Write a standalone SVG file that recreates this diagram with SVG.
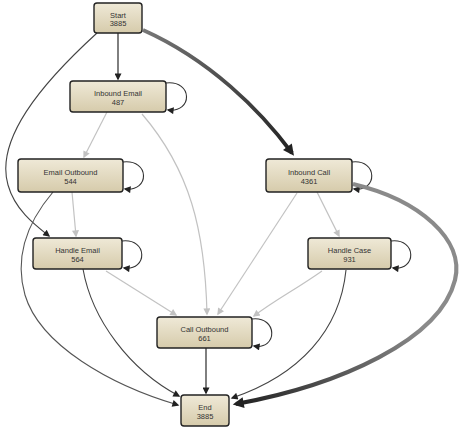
<svg xmlns="http://www.w3.org/2000/svg" width="474" height="430" viewBox="0 0 474 430">
<style>
.node rect{fill:url(#nodeFill);stroke:#222;stroke-width:1.4}
.node text{font-family:"Liberation Sans",Arial,sans-serif;font-size:7.5px;fill:#333;text-anchor:middle}
.e{fill:none}
.dark{stroke:#2a2a2a;stroke-width:1.2;marker-end:url(#aDark)}
.mid{stroke:#444;stroke-width:1.1;marker-end:url(#aDark)}
.light{stroke:#c2c2c2;stroke-width:1.2;marker-end:url(#aLight)}
.loop{stroke:#333;stroke-width:1.1;marker-end:url(#aDark)}
</style>
<defs>
<linearGradient id="nodeFill" x1="0" y1="0" x2="0" y2="1">
<stop offset="0" stop-color="#efe9d7"/>
<stop offset="1" stop-color="#d6cbab"/>
</linearGradient>
<linearGradient id="g1" gradientUnits="userSpaceOnUse" x1="143" y1="30" x2="293" y2="155">
<stop offset="0" stop-color="#777"/>
<stop offset="1" stop-color="#222"/>
</linearGradient>
<linearGradient id="g2" gradientUnits="userSpaceOnUse" x1="420" y1="320" x2="240" y2="405">
<stop offset="0" stop-color="#8a8a8a"/>
<stop offset="1" stop-color="#222"/>
</linearGradient>
<marker id="aDark" viewBox="0 0 10 10" refX="8" refY="5" markerWidth="8" markerHeight="7" markerUnits="userSpaceOnUse" orient="auto">
<path d="M0,0 L10,5 L0,10 z" fill="#222"/>
</marker>
<marker id="aLight" viewBox="0 0 10 10" refX="8" refY="5" markerWidth="8" markerHeight="7" markerUnits="userSpaceOnUse" orient="auto">
<path d="M0,0 L10,5 L0,10 z" fill="#c2c2c2"/>
</marker>
<marker id="aBig" viewBox="0 0 10 10" refX="7" refY="5" markerWidth="13" markerHeight="11" markerUnits="userSpaceOnUse" orient="auto">
<path d="M0,0 L10,5 L0,10 z" fill="#222"/>
</marker>
</defs>
<g id="connectors">
<path class="e dark" d="M118,33 L118,79"/>
<path class="e mid" d="M97,33 C40,85 -5,140 8,185 C15,210 35,225 49,236"/>
<path class="e" d="M143,30 C210,60 260,110 292,153" stroke="url(#g1)" stroke-width="3.8" marker-end="url(#aBig)"/>
<path class="e light" d="M107,112 L84,157"/>
<path class="e light" d="M142,114 C190,170 205,230 207,314"/>
<path class="e loop" d="M166,83 C193,80 193,113 168,110"/>
<path class="e loop" d="M123,162 C150,159 150,192 125,189"/>
<path class="e light" d="M72,192 L76,236"/>
<path class="e" d="M53,192 C25,225 15,260 25,295 C40,345 110,385 178,405" stroke="#555" stroke-width="1.1" marker-end="url(#aDark)"/>
<path class="e loop" d="M122,241 C148,238 148,271 124,268"/>
<path class="e light" d="M106,271 L176,315"/>
<path class="e mid" d="M83,269 C92,320 130,370 179,396"/>
<path class="e light" d="M297,193 L218,314"/>
<path class="e light" d="M317,192 L339,236"/>
<path class="e loop" d="M352,162 C378,159 378,192 354,189"/>
<path class="e" d="M353,184 C420,200 465,240 455,280 C440,340 340,385 236,404" stroke="url(#g2)" stroke-width="4.2" marker-end="url(#aBig)"/>
<path class="e loop" d="M391,241 C417,238 417,271 393,268"/>
<path class="e light" d="M322,271 C295,290 275,300 254,316"/>
<path class="e mid" d="M346,270 C340,330 300,375 232,398"/>
<path class="e loop" d="M252,319 C278,316 278,350 254,346"/>
<path class="e dark" d="M206,348 L206,393"/>
</g>
<g id="start" class="node"><rect x="94" y="3" width="48" height="30" rx="3"/><text x="118" y="17.7">Start</text><text x="118" y="26">3885</text></g>
<g id="inbound-email" class="node"><rect x="70" y="81" width="96" height="31" rx="3"/><text x="118" y="96">Inbound Email</text><text x="118" y="104.5">487</text></g>
<g id="email-outbound" class="node"><rect x="18" y="159" width="105" height="33" rx="3"/><text x="70.5" y="175">Email Outbound</text><text x="70.5" y="183.5">544</text></g>
<g id="handle-email" class="node"><rect x="33" y="238" width="89" height="31" rx="3"/><text x="77.5" y="253">Handle Email</text><text x="77.5" y="261.5">564</text></g>
<g id="inbound-call" class="node"><rect x="266" y="159" width="86" height="33" rx="3"/><text x="309" y="175">Inbound Call</text><text x="309" y="183.5">4361</text></g>
<g id="handle-case" class="node"><rect x="308" y="238" width="83" height="31" rx="3"/><text x="349.5" y="253">Handle Case</text><text x="349.5" y="261.5">931</text></g>
<g id="call-outbound" class="node"><rect x="157" y="317" width="95" height="31" rx="3"/><text x="204.5" y="332">Call Outbound</text><text x="204.5" y="340.5">661</text></g>
<g id="end" class="node"><rect x="181" y="395" width="48" height="31" rx="3"/><text x="205" y="410">End</text><text x="205" y="418.5">3885</text></g>
</svg>
